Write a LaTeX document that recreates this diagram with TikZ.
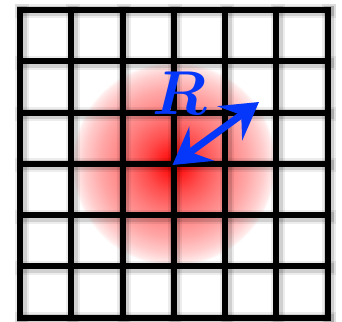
\documentclass[tikz,border=0pt]{standalone}
\usepackage{bm}
\usetikzlibrary{arrows.meta}
\definecolor{arrowblue}{RGB}{5,55,250}
\pgfdeclareradialshading{redglow}{\pgfpoint{0bp}{0bp}}{color(0bp)=(red!100); color(3bp)=(red!88); color(7bp)=(red!70); color(12bp)=(red!52); color(18bp)=(red!35); color(22bp)=(red!20); color(24.3bp)=(red!8); color(25bp)=(white); color(50bp)=(white)}
\tikzset{
  gridline/.style={black, line width=6pt, line cap=rect},
  shadowA/.style={black, opacity=0.07, line width=14pt, line cap=rect},
  shadowB/.style={black, opacity=0.12, line width=10pt, line cap=rect},
  bigarrow/.style={arrowblue, line width=7pt,
     {Stealth[length=36pt,width=42pt,inset=14pt]}-{Stealth[length=36pt,width=42pt,inset=14pt]}},
}
\begin{document}
\begin{tikzpicture}[x=1pt,y=-1pt]
\useasboundingbox (0,0) rectangle (342,321);
\fill[white] (0,0) rectangle (342,321);
\coordinate (c) at (172.5,165);
\shade[shading=redglow] (173.75,163.75) circle (102);
% shadows of grid lines
\foreach \i in {0,...,6}{
  \draw[shadowA] ({21.5+\i*51.25},11.5) -- ({21.5+\i*51.25},319);
  \draw[shadowA] (21.5,{11.5+\i*51.25}) -- (329,{11.5+\i*51.25});
  \draw[shadowB] ({21.5+\i*51.25},11.5) -- ({21.5+\i*51.25},319);
  \draw[shadowB] (21.5,{11.5+\i*51.25}) -- (329,{11.5+\i*51.25});
}
% grid lines
\foreach \i in {0,...,6}{
  \draw[gridline] ({20+\i*51.25},10) -- ({20+\i*51.25},317.5);
  \draw[gridline] (20,{10+\i*51.25}) -- (327.5,{10+\i*51.25});
}
% arrow
\coordinate (e) at (259,102);
\draw[bigarrow] (c) -- (e);
% label
\node[text=arrowblue, scale=6.2] (R) at (180,93) {$\bm{R}$};
\end{tikzpicture}
\end{document}
